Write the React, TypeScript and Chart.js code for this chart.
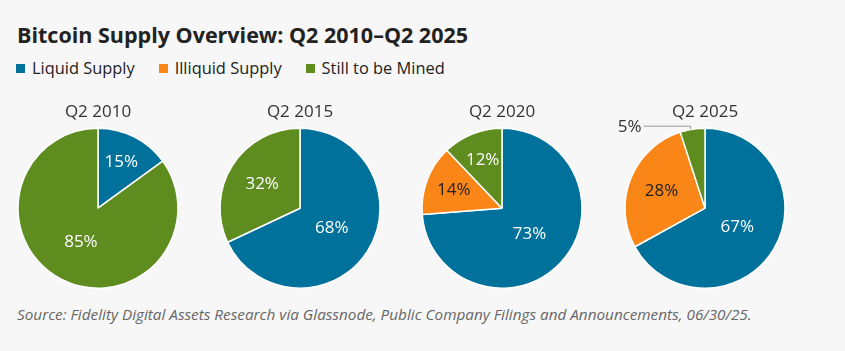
import React, { useEffect, useRef } from "react";
import { Chart, registerables } from "chart.js";

Chart.register(...registerables);

const chartTitle = "Bitcoin Supply Overview: Q2 2010–Q2 2025";
const sourceNote =
  "Source: Fidelity Digital Assets Research via Glassnode, Public Company Filings and Announcements, 06/30/25.";
const categories = ["Liquid Supply", "Illiquid Supply", "Still to be Mined"];
const periods = ["Q2 2010", "Q2 2015", "Q2 2020", "Q2 2025"];
const liquid = [15, 68, 73, 67];
const illiquid = [0, 0, 14, 28];
const toBeMined = [85, 32, 12, 5];

const colors = ["#00719b", "#f98616", "#5e8c1e"];
const labelColors = ["#ffffff", "#222222", "#ffffff"];
const FONT = "'Open Sans', 'Noto Sans', sans-serif";

const sliceLabels = {
  id: "sliceLabels",
  afterDatasetsDraw(chart: any) {
    const ctx = chart.ctx;
    const ds = chart.data.datasets[0];
    const meta = chart.getDatasetMeta(0);
    meta.data.forEach((arc: any, i: number) => {
      const v = ds.data[i];
      if (!v) return;
      const p = arc.getProps(["x", "y", "startAngle", "endAngle", "outerRadius"], true);
      const theta = p.endAngle - p.startAngle;
      const mid = (p.startAngle + p.endAngle) / 2;
      ctx.save();
      ctx.font = `500 17px ${FONT}`;
      ctx.textBaseline = "middle";
      if (v < 8) {
        const ex = p.x + Math.cos(mid) * p.outerRadius;
        const ey = p.y + Math.sin(mid) * p.outerRadius;
        const ly = ey - 3;
        const lx = ex - 49;
        ctx.strokeStyle = "#9a9a9a";
        ctx.lineWidth = 1;
        ctx.beginPath();
        ctx.moveTo(ex - 2, ey);
        ctx.lineTo(ex - 2, ly);
        ctx.lineTo(lx, ly);
        ctx.stroke();
        ctx.fillStyle = "#333333";
        ctx.textAlign = "right";
        ctx.fillText(`${v}%`, lx - 2, ly + 1);
      } else {
        const centroid = (4 * p.outerRadius * Math.sin(theta / 2)) / (3 * theta);
        const d = Math.max(centroid, 0.47 * p.outerRadius);
        const tx = p.x + Math.cos(mid) * d;
        const ty = p.y + Math.sin(mid) * d;
        ctx.fillStyle = labelColors[i];
        ctx.textAlign = "center";
        ctx.fillText(`${v}%`, tx, ty);
      }
      ctx.restore();
    });
  },
};

function Pie({ index, left }: { index: number; left: number }) {
  const ref = useRef<HTMLCanvasElement | null>(null);
  useEffect(() => {
    if (!ref.current) return;
    const chart = new Chart(ref.current, {
      type: "pie",
      data: {
        labels: categories,
        datasets: [
          {
            data: [liquid[index], illiquid[index], toBeMined[index]],
            backgroundColor: colors,
            borderColor: "#ffffff",
            borderWidth: 1.5,
          },
        ],
      },
      options: {
        animation: false,
        responsive: false,
        maintainAspectRatio: false,
        radius: 80,
        layout: { padding: { top: 6, bottom: 4, left: 0, right: 0 } },
        plugins: {
          legend: { display: false },
          tooltip: { enabled: false },
          title: {
            display: true,
            text: periods[index],
            color: "#333333",
            font: { family: FONT, size: 17, weight: "normal" },
            padding: { top: 4, bottom: 6 },
          },
        },
      },
      plugins: [sliceLabels],
    });
    return () => chart.destroy();
  }, [index]);
  return (
    <canvas
      ref={ref}
      width={202}
      height={200}
      style={{ position: "absolute", left, top: 92, width: 202, height: 200 }}
    />
  );
}

export default function App() {
  const centers = [98, 300, 502, 705];
  return (
    <div
      style={{
        position: "fixed",
        left: 0,
        top: 0,
        width: 845,
        height: 351,
        background: "#f7f7f7",
        fontFamily: FONT,
        overflow: "hidden",
      }}
    >
      <div
        style={{
          position: "absolute",
          left: 17,
          top: 24,
          fontSize: 21.5,
          lineHeight: "21px",
          fontWeight: 700,
          color: "#222222",
          whiteSpace: "nowrap",
        }}
      >
        {chartTitle}
      </div>
      <div
        style={{
          position: "absolute",
          left: 16,
          top: 60,
          display: "flex",
          alignItems: "center",
          fontSize: 16.4,
          lineHeight: "16px",
          color: "#222222",
          whiteSpace: "nowrap",
        }}
      >
        {categories.map((c, i) => (
          <div key={c} style={{ display: "flex", alignItems: "center", marginRight: 24 }}>
            <span
              style={{
                display: "inline-block",
                width: 9,
                height: 9,
                background: colors[i],
                marginRight: 7,
              }}
            />
            <span>{c}</span>
          </div>
        ))}
      </div>
      {centers.map((cx, i) => (
        <Pie key={periods[i]} index={i} left={cx - 101} />
      ))}
      <div
        style={{
          position: "absolute",
          left: 17,
          top: 307,
          fontSize: 15.3,
          lineHeight: "15px",
          fontStyle: "italic",
          color: "#666666",
          whiteSpace: "nowrap",
        }}
      >
        {sourceNote}
      </div>
    </div>
  );
}
